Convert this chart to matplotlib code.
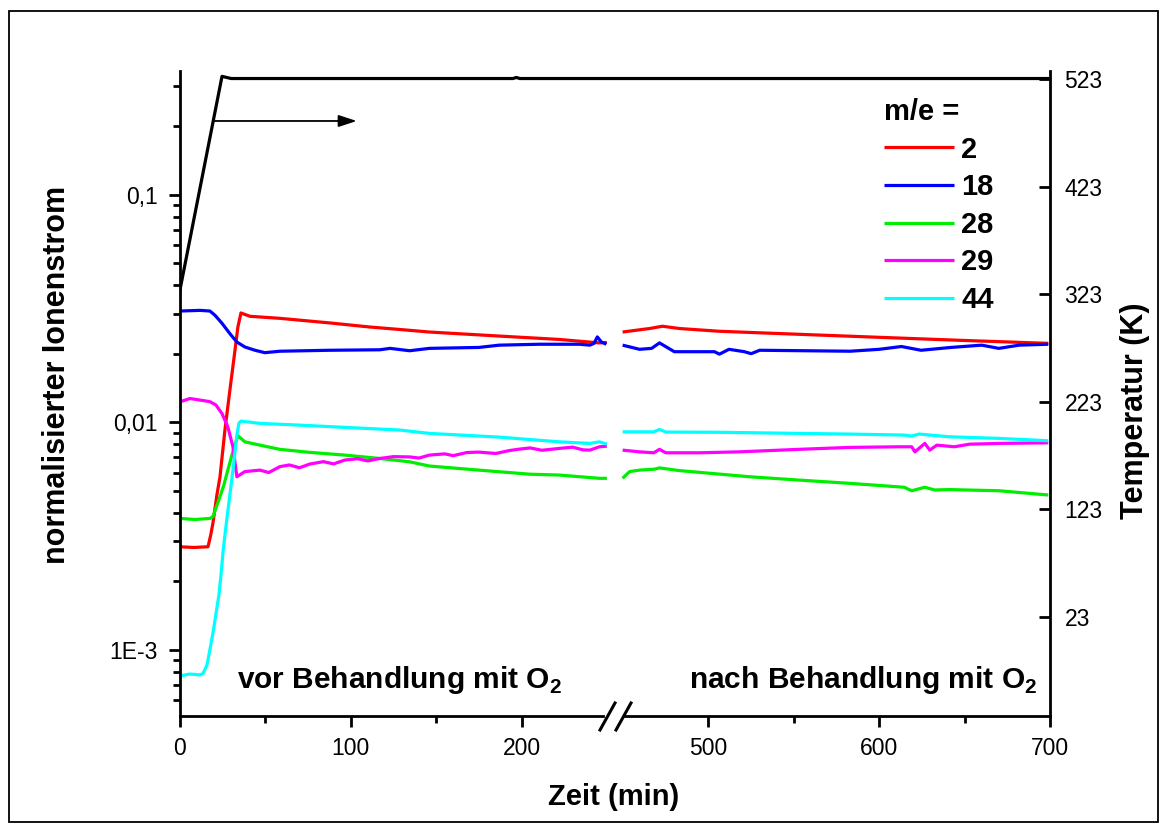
import numpy as np
import matplotlib
matplotlib.use("Agg")
import matplotlib.pyplot as plt
from matplotlib.ticker import FixedLocator, FuncFormatter, LogLocator, NullFormatter
from matplotlib.patches import Rectangle
from matplotlib.lines import Line2D

plt.rcParams['font.family'] = ['Liberation Sans', 'DejaVu Sans']
plt.rcParams['mathtext.fontset'] = 'custom'
plt.rcParams['mathtext.rm'] = 'Liberation Sans'
plt.rcParams['mathtext.bf'] = 'Liberation Sans:bold'

# ---- measured ion currents (normalised), time in minutes ----
t_2 = [0, 8, 16.4, 18, 19.3, 21.6, 23.4, 26.3, 29.2, 32.2, 33.9, 35.7, 40.9, 58.5, 87.7, 111, 130, 146,
       187, 222, 245.6, 250,
       449.7, 465.5, 473, 483, 506, 530, 600, 647, 699]
i_2 = [0.00283, 0.00281, 0.00283, 0.00319, 0.00360, 0.00478, 0.00573, 0.00922, 0.0138, 0.0207, 0.0262,
       0.0302, 0.0292, 0.0286, 0.0273, 0.0262, 0.0255, 0.0249, 0.0239, 0.0231, 0.0223, 0.0224,
       0.0249, 0.0258, 0.0264, 0.0258, 0.0251, 0.0247, 0.0236, 0.0229, 0.0222]

t_18 = [0, 11.7, 17.5, 20.5, 24.6, 29.2, 33.3, 38, 43.9, 49.7, 58.5, 87.7, 117, 123, 134.5, 146, 175, 187,
        210.5, 234, 240, 242.5, 244.4, 246.8, 249.7,
        449.7, 459.6, 466.7, 471.3, 480, 494.7, 503.5, 506.4, 512, 521, 525, 530, 583, 600, 613, 624.5,
        642, 660, 670, 682, 699]
i_18 = [0.0308, 0.0310, 0.0308, 0.0295, 0.0272, 0.0245, 0.0225, 0.0214, 0.0207, 0.0202, 0.0205, 0.0207,
        0.0208, 0.0211, 0.0206, 0.0211, 0.0213, 0.0218, 0.0220, 0.0220, 0.0218, 0.0222, 0.0237, 0.0225,
        0.0220,
        0.0218, 0.0209, 0.0211, 0.0223, 0.0204, 0.0204, 0.0204, 0.0199, 0.0209, 0.0204, 0.0200, 0.0207,
        0.0205, 0.0209, 0.0215, 0.0207, 0.0213, 0.0218, 0.0211, 0.0218, 0.0220]

t_28 = [0, 8.8, 17.5, 19.3, 21, 23.4, 25.7, 28, 30.4, 32.7, 33.9, 38, 46.8, 58.5, 76, 96.5, 117, 134.5,
        146, 175, 205, 222, 245.6, 250,
        449.7, 453.8, 459.6, 468.4, 471.3, 483, 524, 553, 582.5, 614.6, 619, 626.7, 632.5, 641, 670.2, 699]
i_28 = [0.00377, 0.00373, 0.00377, 0.00384, 0.00418, 0.00470, 0.00529, 0.00615, 0.00716, 0.00819,
        0.00871, 0.00819, 0.00792, 0.00759, 0.00736, 0.00716, 0.00692, 0.00669, 0.00641, 0.00615,
        0.00590, 0.00585, 0.00566, 0.00566,
        0.00566, 0.00606, 0.00615, 0.00621, 0.00629, 0.00612, 0.00575, 0.00556, 0.00538, 0.00517,
        0.00499, 0.00517, 0.00503, 0.00505, 0.00499, 0.00478]

t_29 = [0, 5.8, 11.7, 17.5, 21, 24.6, 28, 31, 33.3, 38, 46.8, 52, 58.5, 64, 70, 76, 84, 90, 96.5, 104,
        110, 117, 125, 134.5, 140, 146, 155, 160, 168, 175, 185, 193, 199, 205, 212, 222, 230, 236, 240,
        245.6, 250,
        449.7, 459.6, 468, 471.3, 475, 494.7, 518, 553, 582.5, 612, 619, 620.9, 626.7, 629.6, 633.7, 644,
        653, 670.5, 699]
i_29 = [0.01228, 0.0127, 0.0125, 0.0123, 0.0119, 0.0109, 0.00953, 0.00779, 0.00575, 0.00606, 0.00615,
        0.00600, 0.00637, 0.00648, 0.00630, 0.00654, 0.00670, 0.00655, 0.00681, 0.00690, 0.00675,
        0.00692, 0.00705, 0.00703, 0.00695, 0.00716, 0.00725, 0.00712, 0.00735, 0.00738, 0.00728,
        0.00750, 0.00761, 0.00770, 0.00752, 0.00766, 0.00776, 0.00755, 0.00753, 0.00779, 0.00784,
        0.00753, 0.00740, 0.00733, 0.00759, 0.00733, 0.00733, 0.00740, 0.00759, 0.00774, 0.00779,
        0.00779, 0.00740, 0.00806, 0.00753, 0.00792, 0.00779, 0.00800, 0.00806, 0.00811]

t_44 = [0, 5.8, 11.7, 13.5, 15.8, 17.5, 19.3, 20.5, 22.8, 24, 25.3, 27, 29.2, 31, 32.2, 33.3, 34.5, 35.7,
        46.8, 70, 96.5, 128.6, 146, 187, 222, 240, 245.6, 250,
        449.7, 468, 471.3, 475, 506.4, 553, 582.5, 614.6, 619, 623.3, 640.9, 670.2, 699]
i_44 = [0.000766, 0.000780, 0.000773, 0.000784, 0.000855, 0.000996, 0.001182, 0.001349, 0.001738,
        0.002126, 0.002737, 0.003525, 0.004777, 0.006152, 0.007381, 0.008767, 0.00990, 0.0101,
        0.00987, 0.00970, 0.00948, 0.00923, 0.00892, 0.00859, 0.00819, 0.00806, 0.00819, 0.00800,
        0.00906, 0.00906, 0.00929, 0.00904, 0.00902, 0.00892, 0.00886, 0.00877, 0.00868, 0.00886,
        0.00862, 0.00848, 0.00828]

# ---- sample temperature (K) ----
t_T = [0, 24.6, 30, 195, 197, 199, 700]
temp_K = [327, 525.5, 523.5, 523.5, 524.5, 523.5, 523.5]

series = [("2", t_2, i_2, "#ff0000"),
          ("18", t_18, i_18, "#0000ff"),
          ("28", t_28, i_28, "#00ee00"),
          ("29", t_29, i_29, "#ff00ff"),
          ("44", t_44, i_44, "#00ffff")]

x_ticks = [0, 100, 200, 500, 600, 700]
x_minor = [50, 150, 550, 650]
T_ticks = [23, 123, 223, 323, 423, 523]
I_ticks = {0.1: "0,1", 0.01: "0,01", 0.001: "1E-3"}

# broken time axis: 254..445 min is squeezed to nothing
BRK_A, BRK_B = 254.0, 445.0
_xp = [-1e4, BRK_A, BRK_B, 1e4]
_fp = [-1e4, BRK_A, BRK_A + 0.5, 1e4 - (BRK_B - BRK_A) + 0.5]


def fwd(x):
    return np.interp(x, _xp, _fp)


def inv(x):
    return np.interp(x, _fp, _xp)


W, H = 1167, 832
fig = plt.figure(figsize=(W / 100, H / 100), dpi=100)
ax = fig.add_axes([180 / W, 1 - 716 / H, 870 / W, 645 / H])
ax.set_xscale('function', functions=(fwd, inv))
ax.set_yscale('log')

for lab, t, v, c in series:
    t = np.asarray(t)
    v = np.asarray(v)
    m = t < 300
    ax.plot(t[m], v[m], color=c, lw=2.3, label=lab, solid_capstyle='butt')
    ax.plot(t[~m], v[~m], color=c, lw=2.3, solid_capstyle='butt')

ax.set_xlim(0, 700)
ax.set_ylim(5.1e-4, 0.35)

ax.xaxis.set_major_locator(FixedLocator(x_ticks))
ax.xaxis.set_minor_locator(FixedLocator(x_minor))
ax.xaxis.set_major_formatter(FuncFormatter(lambda v, p: f"{v:g}"))
ax.yaxis.set_major_locator(FixedLocator(list(I_ticks.keys())))
ax.yaxis.set_major_formatter(FuncFormatter(lambda v, p: I_ticks.get(round(v, 6), "")))
ax.yaxis.set_minor_locator(LogLocator(base=10, subs=np.arange(2, 10)))
ax.yaxis.set_minor_formatter(NullFormatter())

ax.tick_params(axis='both', which='major', direction='out', length=8, width=2,
               labelsize=16.5, pad=7)
ax.tick_params(axis='both', which='minor', direction='out', length=5, width=2)
ax.tick_params(axis='y', which='major', pad=8)
ax.tick_params(axis='x', which='major', pad=7)

for s in ('top', 'right', 'bottom'):
    ax.spines[s].set_visible(False)
ax.spines['left'].set_linewidth(2)

# bottom axis line, interrupted at the break
gap_l, gap_r = (603 - 180) / 870, (625 - 180) / 870
for x0, x1 in ((0, gap_l), (gap_r, 1)):
    ax.add_line(Line2D([x0, x1], [0, 0], transform=ax.transAxes, color='k', lw=2,
                       clip_on=False, solid_capstyle='projecting'))
for xs in (600, 616):
    ax.add_line(Line2D([(xs - 180) / 870, (xs + 15 - 180) / 870],
                       [(716 - 730) / 645, (716 - 703) / 645],
                       transform=ax.transAxes, color='k', lw=2.2, clip_on=False))

# temperature axis
ax2 = ax.twinx()
ax2.plot(t_T, temp_K, color='k', lw=2.3)
ax2.set_ylim(-69.5, 530.5)
ax2.yaxis.set_major_locator(FixedLocator(T_ticks))
ax2.tick_params(axis='y', which='major', direction='in', length=8, width=2,
                labelsize=16.5, pad=10.5)
for s in ('top', 'left', 'bottom'):
    ax2.spines[s].set_visible(False)
ax2.spines['right'].set_linewidth(2)

ax2.annotate("", xy=(103.5, 484), xytext=(19.3, 484),
             arrowprops=dict(arrowstyle='-|>,head_length=0.55,head_width=0.18',
                             color='k', lw=1.3, mutation_scale=20,
                             shrinkA=0, shrinkB=0))

# labels
fig.text(614 / W, 1 - 797 / H, "Zeit (min)", fontsize=21, fontweight='bold',
         ha='center', va='center')
fig.text(57 / W, 1 - 375 / H, "normalisierter Ionenstrom", fontsize=22,
         fontweight='bold', rotation=90, ha='center', va='center')
fig.text(1135 / W, 1 - 411 / H, "Temperatur (K)", fontsize=22,
         fontweight='bold', rotation=90, ha='center', va='center')

ax.text((237 - 180) / 870, (716 - 680) / 645, r"vor Behandlung mit O$_\mathbf{2}$",
        transform=ax.transAxes, fontsize=21.5, fontweight='bold', va='center', ha='left')
ax.text((1037 - 180) / 870, (716 - 680) / 645, r"nach Behandlung mit O$_\mathbf{2}$",
        transform=ax.transAxes, fontsize=21.5, fontweight='bold', va='center', ha='right')

leg = ax.legend(title="m/e =", loc='upper left',
                bbox_to_anchor=(884 / W, 1 - 98 / H), bbox_transform=fig.transFigure,
                frameon=False, handlelength=2.4, handletextpad=0.25,
                labelspacing=0.33, borderpad=0, borderaxespad=0,
                alignment='left', prop={'weight': 'bold', 'size': 21},
                title_fontproperties={'weight': 'bold', 'size': 21})
for h in leg.legend_handles:
    h.set_linewidth(2.3)

fig.add_artist(Rectangle((9 / W, 1 - 822 / H), (1158 - 9) / W, (822 - 11) / H,
                         transform=fig.transFigure, fill=False, lw=1.3, ec='k'))

fig.savefig("out.png", dpi=100)
